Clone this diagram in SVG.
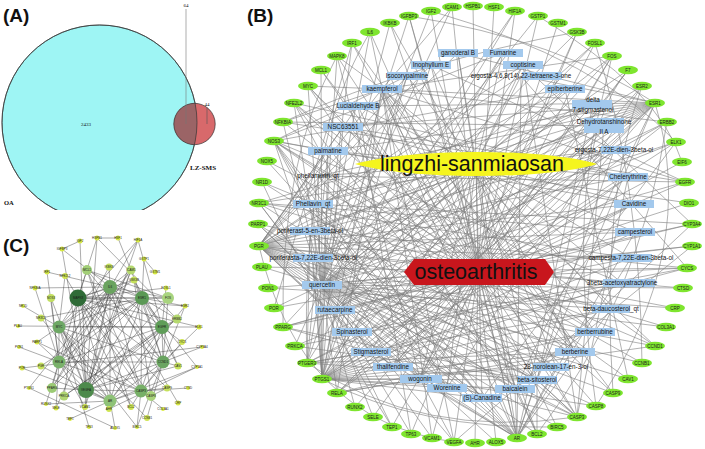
<svg xmlns="http://www.w3.org/2000/svg" width="705" height="449" viewBox="0 0 705 449">
<style>
text{font-family:"Liberation Sans",Arial,sans-serif;fill:#111}
.lbl{font-size:19px;font-weight:bold}
.e{fill:none;stroke:#7e7e7e;stroke-width:0.6}
.ec{fill:none;stroke:#3c3c3c;stroke-width:0.5;stroke-opacity:0.85}
.t ellipse{fill:#7fe52f}
.t text{font-size:4.5px;text-anchor:middle;fill:#1a1a1a}
.c rect{fill:#a3c9ed}
.c text{font-size:6.3px;text-anchor:middle}
.p text{font-size:3px;text-anchor:middle;fill:#1a1a1a}
.vs{font-family:"Liberation Serif","Times New Roman",serif}
</style>
<defs>
<clipPath id="clipA"><rect x="0" y="0" width="240" height="210"/></clipPath>
<clipPath id="clipBig"><circle cx="99.5" cy="122.5" r="97.5"/></clipPath>
</defs>
<rect width="705" height="449" fill="#fff"/>

<!-- Panel A -->
<text class="lbl" x="3" y="22">(A)</text>
<g id="set-OA">
<circle cx="99.5" cy="122.5" r="97.5" fill="#9ef5f4" stroke="#333" stroke-width="0.7" clip-path="url(#clipA)"/>
</g>
<g id="set-LZSMS">
<circle cx="194.5" cy="124" r="20.7" fill="#d8696b"/>
<circle cx="194.5" cy="124" r="20.7" fill="#9b6466" clip-path="url(#clipBig)"/>
<circle cx="194.5" cy="124" r="20.7" fill="none" stroke="#333" stroke-width="0.7"/>
<circle cx="99.5" cy="122.5" r="97.5" fill="none" stroke="#333" stroke-width="0.7" clip-path="url(#clipA)"/>
</g>
<g id="venn-labels">
<line x1="186" y1="9" x2="186" y2="124" stroke="#777" stroke-width="0.6"/>
<line x1="207" y1="107" x2="207" y2="124" stroke="#555" stroke-width="0.6"/>
<text class="vs" x="186" y="7" font-size="5" text-anchor="middle" fill="#444">64</text>
<text class="vs" x="207" y="105.5" font-size="5" text-anchor="middle" fill="#333">44</text>
<text class="vs" x="86" y="125.5" font-size="5" text-anchor="middle" fill="#333">2433</text>
<text class="vs" x="190" y="170" font-size="7" font-weight="bold">LZ-SMS</text>
<text class="vs" x="4" y="205" font-size="6.5" font-weight="bold">OA</text>
</g>

<!-- Panel B -->
<text class="lbl" x="247" y="22">(B)</text>
<g id="connectors-B">
<path class="e" d="M476 164L458 53M476 164L503 53M476 164L431 65M476 164L523 65M476 164L407 76M476 164L521 76M476 164L382 89M476 164L565 89M476 164L358 106M476 164L593 105M476 164L343 127M476 164L604 126M476 164L328 151M476 164L614 150M476 164L318 176M476 164L628 177M476 164L313 204M476 164L634 204M476 164L310 231M476 164L635 232M476 164L313 258M476 164L631 258M476 164L322 285M476 164L622 283M476 164L611 309M476 164L335 310M476 164L595 332M476 164L352 332M476 164L371 352M476 164L575 352M476 164L393 367M476 164L556 367M476 164L537 380M476 164L420 379M476 164L447 388M476 164L515 389M476 164L482 398"/>
<path class="e" d="M478 271L370 32M478 271L390 23M478 271L409 16M478 271L431 11M478 271L452 7M478 271L473 6M478 271L494 7M478 271L515 11M478 271L538 16M478 271L558 23M478 271L577 32M478 271L595 43M478 271L612 56M478 271L628 70M478 271L642 86M478 271L655 103M478 271L667 122M478 271L676 142M478 271L682 162M478 271L685 182M478 271L689 203M478 271L692 224M478 271L692 246M478 271L687 268M478 271L683 288M478 271L675 308M478 271L666 327M478 271L655 346M478 271L642 363M478 271L628 379M478 271L613 393M478 271L596 406M478 271L577 417M478 271L557 427M478 271L537 434M478 271L517 438M478 271L496 442M478 271L475 443M478 271L454 442M478 271L432 438M478 271L411 434M478 271L392 427M478 271L373 417M478 271L355 407M478 271L337 393M478 271L322 379M478 271L307 363M478 271L295 346M478 271L283 327M478 271L274 308M478 271L268 288M478 271L262 267M478 271L259 246M478 271L258 224M478 271L259 203M478 271L262 182M478 271L267 161M478 271L274 141M478 271L283 122M478 271L294 103M478 271L308 86M478 271L321 70M478 271L337 56M478 271L352 43"/>
<path class="e" d="M322 285L370 32M322 285L390 23M322 285L409 16M322 285L431 11M322 285L452 7M322 285L515 11M322 285L538 16M322 285L577 32M322 285L595 43M322 285L612 56M322 285L628 70M322 285L642 86M322 285L655 103M322 285L667 122M322 285L676 142M322 285L685 182M322 285L692 246M322 285L687 268M322 285L683 288M322 285L675 308M322 285L666 327M322 285L655 346M322 285L642 363M322 285L628 379M322 285L613 393M322 285L596 406M322 285L577 417M322 285L557 427M322 285L537 434M322 285L517 438M322 285L496 442M322 285L454 442M322 285L432 438M322 285L411 434M322 285L392 427M322 285L373 417M322 285L355 407M322 285L337 393M322 285L322 379M322 285L307 363M322 285L295 346M322 285L283 327M322 285L274 308M322 285L262 267M322 285L259 246M322 285L258 224M322 285L259 203M322 285L274 141M322 285L283 122M322 285L294 103M322 285L308 86M322 285L321 70M322 285L337 56M322 285L352 43"/>
<path class="e" d="M382 89L370 32M382 89L452 7M382 89L612 56M382 89L655 103M382 89L667 122M382 89L685 182M382 89L655 346M382 89L613 393M382 89L577 417M382 89L537 434M382 89L517 438M382 89L454 442M382 89L432 438M382 89L337 393M382 89L322 379M382 89L259 246M382 89L283 122M382 89L308 86M382 89L337 56"/>
<path class="e" d="M420 379L577 32M420 379L612 56M420 379L655 103M420 379L655 346M420 379L596 406M420 379L577 417M420 379L517 438M420 379L454 442M420 379L337 393M420 379L322 379M420 379L259 246M420 379L258 224M420 379L337 56M420 379L274 141"/>
<path class="e" d="M515 389L409 16M515 389L655 103M515 389L692 224M515 389L692 246M515 389L577 417M515 389L537 434M515 389L517 438M515 389L454 442M515 389L322 379M515 389L259 246M515 389L258 224M515 389L308 86M515 389L294 103"/>
<path class="e" d="M537 380L612 56M537 380L655 103M537 380L577 417M537 380L537 434M537 380L517 438M537 380L322 379M537 380L307 363M537 380L295 346M537 380L283 327M537 380L259 246M537 380L321 70M537 380L259 203"/>
<path class="e" d="M371 352L655 103M371 352L687 268M371 352L517 438M371 352L322 379M371 352L307 363M371 352L283 327M371 352L259 246M371 352L259 203"/>
<path class="e" d="M458 53L259 246M458 53L517 438M458 53L655 103M503 53L322 379M503 53L307 363M503 53L274 141M431 65L259 246M431 65L517 438M431 65L685 182M431 65L322 379M523 65L322 379M523 65L259 246M523 65L692 224M523 65L577 417M407 76L322 379M407 76L307 363M407 76L274 141M407 76L259 246M521 76L259 246M521 76L517 438M521 76L687 268M521 76L655 103M565 89L322 379M565 89L259 246M565 89L274 141M565 89L628 379M358 106L259 246M358 106L517 438M358 106L655 103M358 106L411 434M593 105L259 246M593 105L322 379M593 105L517 438M593 105L259 203M343 127L655 103M343 127L259 246M343 127L322 379M343 127L655 346M343 127L685 182M604 126L322 379M604 126L259 246M604 126L577 417M604 126L283 122M604 126L337 393M328 151L322 379M328 151L259 246M328 151L655 103M328 151L274 141M328 151L307 363M328 151L689 203M614 150L259 246M614 150L322 379M614 150L517 438M614 150L259 203M318 176L655 103M318 176L685 182M318 176L322 379M318 176L517 438M318 176L577 417"/>
<path class="e" d="M628 177L322 379M628 177L259 246M628 177L283 122M628 177L577 417M628 177L294 103M628 177L337 393M313 204L655 103M313 204L322 379M313 204L577 417M313 204L517 438M313 204L692 224M634 204L322 379M634 204L259 246M634 204L274 141M634 204L307 363M310 231L259 246M310 231L322 379M310 231L517 438M310 231L655 103M310 231L307 363M310 231L687 268M635 232L259 246M635 232L322 379M635 232L517 438M635 232L259 203M635 232L283 327M313 258L259 246M313 258L322 379M313 258L517 438M313 258L655 103M313 258L676 142M631 258L259 246M631 258L322 379M631 258L517 438M631 258L283 327M631 258L259 203M622 283L322 379M622 283L259 246M622 283L295 346M622 283L274 141M611 309L259 246M611 309L322 379M611 309L307 363M611 309L517 438M611 309L268 288"/>
<path class="e" d="M335 310L655 103M335 310L692 224M335 310L322 379M335 310L667 122M335 310L515 11M335 310L595 43M595 332L322 379M595 332L259 246M595 332L274 141M595 332L337 393M595 332L294 103M352 332L259 246M352 332L322 379M352 332L517 438M352 332L655 103M352 332L687 268M352 332L612 56M575 352L322 379M575 352L259 246M575 352L274 141M575 352L307 363M575 352L337 393M575 352L308 86M575 352L352 43M575 352L390 23M393 367L655 103M393 367L259 246M393 367L274 141M393 367L628 70M556 367L259 246M556 367L322 379M556 367L517 438M556 367L262 182M447 388L322 379M447 388L259 246M447 388L274 141M447 388L642 86M447 388L294 103M482 398L322 379M482 398L259 246M482 398L274 141M482 398L676 142M482 398L267 161"/>
<path class="e" d="M628 70Q560 150 596 406M642 86Q600 200 613 393M595 43Q640 180 642 363M370 32Q300 150 307 363M352 43Q330 120 274 308M337 56Q280 160 283 327M655 103Q700 250 596 406M409 16Q560 40 655 103M431 11Q600 60 676 142M322 379Q420 430 557 427M307 363Q420 440 577 417M259 246Q300 420 454 442M538 16Q660 90 682 162M262 182Q330 330 392 427M667 122Q640 300 537 434M283 122Q420 60 577 32"/>
</g>

<g id="n-lingzhi"><path d="M355 164C410 148 545 148 597 164C545 180 410 180 355 164Z" fill="#f5f51e"/><text x="472" y="171" font-size="21.5" text-anchor="middle">lingzhi-sanmiaosan</text></g>
<g id="n-osteoarthritis"><path d="M404 272L414 259L545 259L554 272L545 285L414 285Z" fill="#c8161d"/><text x="476" y="279" font-size="21.5" text-anchor="middle">osteoarthritis</text></g>

<g id="t-IL6" class="t"><ellipse cx="370" cy="32" rx="10" ry="4.2"/><text x="370" y="33.6">IL6</text></g>
<g id="t-IKBKB" class="t"><ellipse cx="390" cy="23" rx="10" ry="4.2"/><text x="390" y="24.6">IKBKB</text></g>
<g id="t-IGFBP3" class="t"><ellipse cx="409" cy="16" rx="10" ry="4.2"/><text x="409" y="17.6">IGFBP3</text></g>
<g id="t-IGF2" class="t"><ellipse cx="431" cy="11" rx="10" ry="4.2"/><text x="431" y="12.6">IGF2</text></g>
<g id="t-ICAM1" class="t"><ellipse cx="452" cy="7" rx="10" ry="4.2"/><text x="452" y="8.6">ICAM1</text></g>
<g id="t-HSPB1" class="t"><ellipse cx="473" cy="6" rx="10" ry="4.2"/><text x="473" y="7.6">HSPB1</text></g>
<g id="t-HSF1" class="t"><ellipse cx="494" cy="7" rx="10" ry="4.2"/><text x="494" y="8.6">HSF1</text></g>
<g id="t-HIF1A" class="t"><ellipse cx="515" cy="11" rx="10" ry="4.2"/><text x="515" y="12.6">HIF1A</text></g>
<g id="t-GSTP1" class="t"><ellipse cx="538" cy="16" rx="10" ry="4.2"/><text x="538" y="17.6">GSTP1</text></g>
<g id="t-GSTM1" class="t"><ellipse cx="558" cy="23" rx="10" ry="4.2"/><text x="558" y="24.6">GSTM1</text></g>
<g id="t-GSK3B" class="t"><ellipse cx="577" cy="32" rx="10" ry="4.2"/><text x="577" y="33.6">GSK3B</text></g>
<g id="t-FOSL1" class="t"><ellipse cx="595" cy="43" rx="10" ry="4.2"/><text x="595" y="44.6">FOSL1</text></g>
<g id="t-FOS" class="t"><ellipse cx="612" cy="56" rx="10" ry="4.2"/><text x="612" y="57.6">FOS</text></g>
<g id="t-F7" class="t"><ellipse cx="628" cy="70" rx="10" ry="4.2"/><text x="628" y="71.6">F7</text></g>
<g id="t-ESR2" class="t"><ellipse cx="642" cy="86" rx="10" ry="4.2"/><text x="642" y="87.6">ESR2</text></g>
<g id="t-ESR1" class="t"><ellipse cx="655" cy="103" rx="10" ry="4.2"/><text x="655" y="104.6">ESR1</text></g>
<g id="t-ERBB2" class="t"><ellipse cx="667" cy="122" rx="10" ry="4.2"/><text x="667" y="123.6">ERBB2</text></g>
<g id="t-ELK1" class="t"><ellipse cx="676" cy="142" rx="10" ry="4.2"/><text x="676" y="143.6">ELK1</text></g>
<g id="t-EIF6" class="t"><ellipse cx="682" cy="162" rx="10" ry="4.2"/><text x="682" y="163.6">EIF6</text></g>
<g id="t-EGFR" class="t"><ellipse cx="685" cy="182" rx="10" ry="4.2"/><text x="685" y="183.6">EGFR</text></g>
<g id="t-DIO1" class="t"><ellipse cx="689" cy="203" rx="10" ry="4.2"/><text x="689" y="204.6">DIO1</text></g>
<g id="t-CYP3A4" class="t"><ellipse cx="692" cy="224" rx="10" ry="4.2"/><text x="692" y="225.6">CYP3A4</text></g>
<g id="t-CYP1A1" class="t"><ellipse cx="692" cy="246" rx="10" ry="4.2"/><text x="692" y="247.6">CYP1A1</text></g>
<g id="t-CYCS" class="t"><ellipse cx="687" cy="268" rx="10" ry="4.2"/><text x="687" y="269.6">CYCS</text></g>
<g id="t-CTSD" class="t"><ellipse cx="683" cy="288" rx="10" ry="4.2"/><text x="683" y="289.6">CTSD</text></g>
<g id="t-CRP" class="t"><ellipse cx="675" cy="308" rx="10" ry="4.2"/><text x="675" y="309.6">CRP</text></g>
<g id="t-COL3A1" class="t"><ellipse cx="666" cy="327" rx="10" ry="4.2"/><text x="666" y="328.6">COL3A1</text></g>
<g id="t-CCND1" class="t"><ellipse cx="655" cy="346" rx="10" ry="4.2"/><text x="655" y="347.6">CCND1</text></g>
<g id="t-CCNB1" class="t"><ellipse cx="642" cy="363" rx="10" ry="4.2"/><text x="642" y="364.6">CCNB1</text></g>
<g id="t-CAV1" class="t"><ellipse cx="628" cy="379" rx="10" ry="4.2"/><text x="628" y="380.6">CAV1</text></g>
<g id="t-CASP9" class="t"><ellipse cx="613" cy="393" rx="10" ry="4.2"/><text x="613" y="394.6">CASP9</text></g>
<g id="t-CASP8" class="t"><ellipse cx="596" cy="406" rx="10" ry="4.2"/><text x="596" y="407.6">CASP8</text></g>
<g id="t-CASP3" class="t"><ellipse cx="577" cy="417" rx="10" ry="4.2"/><text x="577" y="418.6">CASP3</text></g>
<g id="t-BIRC5" class="t"><ellipse cx="557" cy="427" rx="10" ry="4.2"/><text x="557" y="428.6">BIRC5</text></g>
<g id="t-BCL2" class="t"><ellipse cx="537" cy="434" rx="10" ry="4.2"/><text x="537" y="435.6">BCL2</text></g>
<g id="t-AR" class="t"><ellipse cx="517" cy="438" rx="10" ry="4.2"/><text x="517" y="439.6">AR</text></g>
<g id="t-ALOX5" class="t"><ellipse cx="496" cy="442" rx="10" ry="4.2"/><text x="496" y="443.6">ALOX5</text></g>
<g id="t-AHR" class="t"><ellipse cx="475" cy="443" rx="10" ry="4.2"/><text x="475" y="444.6">AHR</text></g>
<g id="t-VEGFA" class="t"><ellipse cx="454" cy="442" rx="10" ry="4.2"/><text x="454" y="443.6">VEGFA</text></g>
<g id="t-VCAM1" class="t"><ellipse cx="432" cy="438" rx="10" ry="4.2"/><text x="432" y="439.6">VCAM1</text></g>
<g id="t-TP63" class="t"><ellipse cx="411" cy="434" rx="10" ry="4.2"/><text x="411" y="435.6">TP63</text></g>
<g id="t-TEP1" class="t"><ellipse cx="392" cy="427" rx="10" ry="4.2"/><text x="392" y="428.6">TEP1</text></g>
<g id="t-SELE" class="t"><ellipse cx="373" cy="417" rx="10" ry="4.2"/><text x="373" y="418.6">SELE</text></g>
<g id="t-RUNX2" class="t"><ellipse cx="355" cy="407" rx="10" ry="4.2"/><text x="355" y="408.6">RUNX2</text></g>
<g id="t-RELA" class="t"><ellipse cx="337" cy="393" rx="10" ry="4.2"/><text x="337" y="394.6">RELA</text></g>
<g id="t-PTGS1" class="t"><ellipse cx="322" cy="379" rx="10" ry="4.2"/><text x="322" y="380.6">PTGS1</text></g>
<g id="t-PTGER3" class="t"><ellipse cx="307" cy="363" rx="10" ry="4.2"/><text x="307" y="364.6">PTGER3</text></g>
<g id="t-PRKCA" class="t"><ellipse cx="295" cy="346" rx="10" ry="4.2"/><text x="295" y="347.6">PRKCA</text></g>
<g id="t-PPARG" class="t"><ellipse cx="283" cy="327" rx="10" ry="4.2"/><text x="283" y="328.6">PPARG</text></g>
<g id="t-POR" class="t"><ellipse cx="274" cy="308" rx="10" ry="4.2"/><text x="274" y="309.6">POR</text></g>
<g id="t-PON1" class="t"><ellipse cx="268" cy="288" rx="10" ry="4.2"/><text x="268" y="289.6">PON1</text></g>
<g id="t-PLAU" class="t"><ellipse cx="262" cy="267" rx="10" ry="4.2"/><text x="262" y="268.6">PLAU</text></g>
<g id="t-PGR" class="t"><ellipse cx="259" cy="246" rx="10" ry="4.2"/><text x="259" y="247.6">PGR</text></g>
<g id="t-PARP1" class="t"><ellipse cx="258" cy="224" rx="10" ry="4.2"/><text x="258" y="225.6">PARP1</text></g>
<g id="t-NR3C1" class="t"><ellipse cx="259" cy="203" rx="10" ry="4.2"/><text x="259" y="204.6">NR3C1</text></g>
<g id="t-NR1D" class="t"><ellipse cx="262" cy="182" rx="10" ry="4.2"/><text x="262" y="183.6">NR1D</text></g>
<g id="t-NOX5" class="t"><ellipse cx="267" cy="161" rx="10" ry="4.2"/><text x="267" y="162.6">NOX5</text></g>
<g id="t-NOS3" class="t"><ellipse cx="274" cy="141" rx="10" ry="4.2"/><text x="274" y="142.6">NOS3</text></g>
<g id="t-NFKBIA" class="t"><ellipse cx="283" cy="122" rx="10" ry="4.2"/><text x="283" y="123.6">NFKBIA</text></g>
<g id="t-NFE2L2" class="t"><ellipse cx="294" cy="103" rx="10" ry="4.2"/><text x="294" y="104.6">NFE2L2</text></g>
<g id="t-MYC" class="t"><ellipse cx="308" cy="86" rx="10" ry="4.2"/><text x="308" y="87.6">MYC</text></g>
<g id="t-MCL1" class="t"><ellipse cx="321" cy="70" rx="10" ry="4.2"/><text x="321" y="71.6">MCL1</text></g>
<g id="t-MAPK8" class="t"><ellipse cx="337" cy="56" rx="10" ry="4.2"/><text x="337" y="57.6">MAPK8</text></g>
<g id="t-IRF1" class="t"><ellipse cx="352" cy="43" rx="10" ry="4.2"/><text x="352" y="44.6">IRF1</text></g>

<g id="c-ganoderalB" class="c"><rect x="438" y="49" width="40" height="8"/><text x="458" y="55.3">ganoderal B</text></g>
<g id="c-Fumarine" class="c"><rect x="483" y="49" width="40" height="8"/><text x="503" y="55.3">Fumarine</text></g>
<g id="c-InophyllumE" class="c"><rect x="411" y="61" width="40" height="8"/><text x="431" y="67.3">Inophyllum E</text></g>
<g id="c-coptisine" class="c"><rect x="503" y="61" width="40" height="8"/><text x="523" y="67.3">coptisine</text></g>
<g id="c-Isocorypalmine" class="c"><rect x="387" y="72" width="40" height="8"/><text x="407" y="78.3">Isocorypalmine</text></g>
<g id="c-ergosta-tetraene" class="c"><rect x="522" y="72" width="40" height="8"/><text x="521" y="78.3">ergosta-4,6,8(14),22-tetraene-3-one</text></g>
<g id="c-kaempferol" class="c"><rect x="362" y="85" width="40" height="8"/><text x="382" y="91.3">kaempferol</text></g>
<g id="c-epiberberine" class="c"><rect x="545" y="85" width="40" height="8"/><text x="565" y="91.3">epiberberine</text></g>
<g id="c-LucialdehydeB" class="c"><rect x="338" y="102" width="40" height="8"/><text x="358" y="108.3">Lucialdehyde B</text></g>
<g id="c-delta7-stigmastenol" class="c"><rect x="572" y="100" width="40" height="9"/><text x="593" y="102.3">delta</text><text x="593" y="112.3">7-stigmastenol</text></g>
<g id="c-NSC63551" class="c"><rect x="323" y="123" width="40" height="8"/><text x="343" y="129.3">NSC63551</text></g>
<g id="c-DehydrotanshinoneIIA" class="c"><rect x="584" y="118" width="40" height="15"/><text x="604" y="124.3">Dehydrotanshinone</text><text x="604" y="134.3">II A</text></g>
<g id="c-palmatine" class="c"><rect x="308" y="147" width="40" height="8"/><text x="328" y="153.3">palmatine</text></g>
<g id="c-ergosta-dien" class="c"><rect x="601" y="146" width="30" height="8"/><text x="614" y="152.3">ergosta-7,22E-dien-3beta-ol</text></g>
<g id="c-phellamurin" class="c"><text x="318" y="178.3">phellamurin_qt</text></g>
<g id="c-Chelerythrine" class="c"><rect x="608" y="173" width="40" height="8"/><text x="628" y="179.3">Chelerythrine</text></g>
<g id="c-Phellavin" class="c"><rect x="293" y="200" width="40" height="8"/><text x="313" y="206.3">Phellavin_qt</text></g>
<g id="c-Cavidine" class="c"><rect x="614" y="200" width="40" height="8"/><text x="634" y="206.3">Cavidine</text></g>
<g id="c-poriferast" class="c"><rect x="290" y="227" width="40" height="8"/><text x="310" y="233.3">poriferast-5-en-3beta-ol</text></g>
<g id="c-campesterol" class="c"><rect x="615" y="228" width="40" height="8"/><text x="635" y="234.3">campesterol</text></g>
<g id="c-poriferasta" class="c"><rect x="293" y="254" width="40" height="8"/><text x="313" y="260.3">poriferasta-7,22E-dien-3beta-ol</text></g>
<g id="c-campesta" class="c"><rect x="612" y="254" width="40" height="8"/><text x="631" y="260.3">campesta-7,22E-dien-3beta-ol</text></g>
<g id="c-quercetin" class="c"><rect x="302" y="281" width="40" height="8"/><text x="322" y="287.3">quercetin</text></g>
<g id="c-acetoxyatractylone" class="c"><rect x="603" y="279" width="52" height="8"/><text x="622" y="285.3">3beta-acetoxyatractylone</text></g>
<g id="c-daucosterol" class="c"><rect x="592" y="305" width="38" height="8"/><text x="611" y="311.3">beta-daucosterol_qt</text></g>
<g id="c-rutaecarpine" class="c"><rect x="315" y="306" width="40" height="8"/><text x="335" y="312.3">rutaecarpine</text></g>
<g id="c-berberrubine" class="c"><rect x="575" y="328" width="40" height="8"/><text x="595" y="334.3">berberrubine</text></g>
<g id="c-Spinasterol" class="c"><rect x="332" y="328" width="40" height="8"/><text x="352" y="334.3">Spinasterol</text></g>
<g id="c-Stigmasterol" class="c"><rect x="351" y="348" width="40" height="8"/><text x="371" y="354.3">Stigmasterol</text></g>
<g id="c-berberine" class="c"><rect x="555" y="348" width="40" height="8"/><text x="575" y="354.3">berberine</text></g>
<g id="c-thalifendine" class="c"><rect x="373" y="363" width="40" height="8"/><text x="393" y="369.3">thalifendine</text></g>
<g id="c-norolean" class="c"><rect x="533" y="363" width="36" height="8"/><text x="556" y="369.3">28-norolean-17-en-3-ol</text></g>
<g id="c-sitosterol" class="c"><rect x="517" y="376" width="40" height="8"/><text x="537" y="382.3">beta-sitosterol</text></g>
<g id="c-wogonin" class="c"><rect x="400" y="375" width="42" height="8"/><text x="420" y="381.3">wogonin</text></g>
<g id="c-Worenine" class="c"><rect x="427" y="384" width="40" height="8"/><text x="447" y="390.3">Worenine</text></g>
<g id="c-baicalein" class="c"><rect x="495" y="385" width="40" height="8"/><text x="515" y="391.3">baicalein</text></g>
<g id="c-Canadine" class="c"><rect x="462" y="394" width="40" height="8"/><text x="482" y="400.3">(S)-Canadine</text></g>

<!-- Panel C -->
<text class="lbl" x="3" y="252">(C)</text>
<g id="connectors-C">
<path class="ec" d="M78 298L86 390M78 298L142 298M78 298L110 287M78 298L162 327M78 298L163 362M78 298L59 327M78 298L59 362M78 298L141 391M78 298L110 401M86 390L142 298M86 390L110 287M86 390L162 327M86 390L163 362M86 390L59 327M86 390L59 362M86 390L141 391M86 390L110 401M142 298L110 287M142 298L162 327M142 298L163 362M142 298L59 327M142 298L59 362M142 298L141 391M142 298L110 401M110 287L162 327M110 287L163 362M110 287L59 327M110 287L59 362M110 287L141 391M110 287L110 401M162 327L163 362M162 327L59 327M162 327L59 362M162 327L141 391M162 327L110 401M163 362L59 327M163 362L59 362M163 362L141 391M163 362L110 401M59 327L59 362M59 327L141 391M59 327L110 401M59 362L141 391M59 362L110 401M141 391L110 401"/>
<path class="ec" d="M78 298L168 298M78 298L185 306M78 298L65 276M78 298L87 270M78 298L167 388M78 298L131 407M78 298L134 280M78 298L199 327M78 298L151 396M78 298L64 396M78 298L97 238M78 298L166 288M86 390L138 240M86 390L131 270M86 390L51 298M86 390L178 366M86 390L177 319M86 390L168 298M86 390L97 238M86 390L80 241M86 390L85 407M86 390L52 388M86 390L62 249M142 298L185 306M142 298L41 366M142 298L177 319M142 298L197 367M142 298L41 318M142 298L118 238M142 298L178 366M142 298L52 388M142 298L87 270M142 298L144 259M142 298L168 298M110 287L131 270M110 287L85 407M110 287L56 408M110 287L178 403M110 287L47 272M110 287L29 388M110 287L35 288M110 287L168 298M110 287L109 267M110 287L62 249"/>
<path class="ec" d="M162 327L177 319M162 327L134 280M162 327L199 327M162 327L18 326M162 327L64 396M162 327L178 366M162 327L138 240M162 327L182 342M162 327L166 288M163 362L147 418M163 362L134 280M163 362L168 298M163 362L185 306M163 362L137 427M163 362L178 366M163 362L199 327M163 362L87 270M163 362L202 347M59 327L138 240M59 327L134 280M59 327L89 427M59 327L147 418M59 327L137 427M59 327L37 342M59 327L65 276M59 327L23 306M59 362L35 288M59 362L109 267M59 362L131 270M59 362L85 407M59 362L56 408M59 362L37 342M59 362L52 388M59 362L51 298M59 362L47 272M59 362L46 404M59 362L19 347M141 391L151 396M141 391L167 388M141 391L131 407M141 391L37 342M141 391L137 427M141 391L182 342M141 391L87 270M141 391L188 388M141 391L163 409M110 401L41 366M110 401L185 306M110 401L41 318M110 401L109 409M110 401L46 404M110 401L197 367M110 401L115 428M110 401L70 419M110 401L22 368M109 409L197 367M202 347L22 368M155 272L144 259M29 388L115 428M97 238L118 238M62 249L80 241M151 396L167 388M131 407L87 270M131 270L85 407M87 270L168 298M131 270L52 388M177 319L64 396M134 280L151 396M97 238L177 319M138 240L52 388"/>
</g>
<g id="p-HSPB1" class="p"><circle cx="97" cy="238" r="2.5" fill="#d8ea45"/><text x="97" y="239">HSPB1</text></g>
<g id="p-HSF1" class="p"><circle cx="118" cy="238" r="2.5" fill="#d8ea45"/><text x="118" y="239">HSF1</text></g>
<g id="p-HIF1A" class="p"><circle cx="138" cy="240" r="2.5" fill="#d8ea45"/><text x="138" y="241">HIF1A</text></g>
<g id="p-IGF2" class="p"><circle cx="80" cy="241" r="2.5" fill="#d8ea45"/><text x="80" y="242">IGF2</text></g>
<g id="p-IGFBP3" class="p"><circle cx="62" cy="249" r="2.5" fill="#d8ea45"/><text x="62" y="250">IGFBP3</text></g>
<g id="p-GSTP1" class="p"><circle cx="144" cy="259" r="2.5" fill="#d8ea45"/><text x="144" y="260">GSTP1</text></g>
<g id="p-IRF1" class="p"><circle cx="47" cy="272" r="2.5" fill="#d8ea45"/><text x="47" y="273">IRF1</text></g>
<g id="p-MCL1" class="p"><circle cx="87" cy="270" r="5" fill="#a3cf78"/><text x="87" y="271">MCL1</text></g>
<g id="p-IKBKB" class="p"><circle cx="109" cy="267" r="3.5" fill="#c6e15d"/><text x="109" y="268">IKBKB</text></g>
<g id="p-ICAM1" class="p"><circle cx="131" cy="270" r="4.5" fill="#b5d96f"/><text x="131" y="271">ICAM1</text></g>
<g id="p-GSTM1" class="p"><circle cx="155" cy="272" r="2.5" fill="#d8ea45"/><text x="155" y="273">GSTM1</text></g>
<g id="p-NFE2L2" class="p"><circle cx="65" cy="276" r="3" fill="#cfe552"/><text x="65" y="277">NFE2L2</text></g>
<g id="p-GSK3B" class="p"><circle cx="134" cy="280" r="3.5" fill="#c6e15d"/><text x="134" y="281">GSK3B</text></g>
<g id="p-IL6" class="p"><circle cx="110" cy="287" r="7" fill="#6aa35f"/><text x="110" y="288">IL6</text></g>
<g id="p-NFKBIA" class="p"><circle cx="35" cy="288" r="2.5" fill="#d8ea45"/><text x="35" y="289">NFKBIA</text></g>
<g id="p-FOSL1" class="p"><circle cx="166" cy="288" r="2.5" fill="#d8ea45"/><text x="166" y="289">FOSL1</text></g>
<g id="p-NOS3" class="p"><circle cx="51" cy="298" r="4" fill="#c2df62"/><text x="51" y="299">NOS3</text></g>
<g id="p-MAPK8" class="p"><circle cx="78" cy="298" r="8.5" fill="#2f6b37"/><text x="78" y="299">MAPK8</text></g>
<g id="p-ESR1" class="p"><circle cx="142" cy="298" r="7" fill="#5b9955"/><text x="142" y="299">ESR1</text></g>
<g id="p-FOS" class="p"><circle cx="168" cy="298" r="6" fill="#a9d47f"/><text x="168" y="299">FOS</text></g>
<g id="p-ESR2" class="p"><circle cx="185" cy="306" r="2.5" fill="#d8ea45"/><text x="185" y="307">ESR2</text></g>
<g id="p-NR1D" class="p"><circle cx="23" cy="306" r="2" fill="#dcec42"/><text x="23" y="307">NR1D</text></g>
<g id="p-NR3C1" class="p"><circle cx="41" cy="318" r="3.5" fill="#c6e15d"/><text x="41" y="319">NR3C1</text></g>
<g id="p-ERBB2" class="p"><circle cx="177" cy="319" r="4.5" fill="#b5d96f"/><text x="177" y="320">ERBB2</text></g>
<g id="p-PLAU" class="p"><circle cx="18" cy="326" r="2" fill="#dcec42"/><text x="18" y="327">PLAU</text></g>
<g id="p-MYC" class="p"><circle cx="59" cy="327" r="6.5" fill="#6ea865"/><text x="59" y="328">MYC</text></g>
<g id="p-EGFR" class="p"><circle cx="162" cy="327" r="7" fill="#5f9d58"/><text x="162" y="328">EGFR</text></g>
<g id="p-ELK1" class="p"><circle cx="199" cy="327" r="2.5" fill="#d8ea45"/><text x="199" y="328">ELK1</text></g>
<g id="p-PARP1" class="p"><circle cx="37" cy="342" r="2.5" fill="#d8ea45"/><text x="37" y="343">PARP1</text></g>
<g id="p-CYCS" class="p"><circle cx="182" cy="342" r="3" fill="#cfe552"/><text x="182" y="343">CYCS</text></g>
<g id="p-PON1" class="p"><circle cx="19" cy="347" r="2" fill="#dcec42"/><text x="19" y="348">PON1</text></g>
<g id="p-CYP3A4" class="p"><circle cx="202" cy="347" r="2" fill="#dcec42"/><text x="202" y="348">CYP3A4</text></g>
<g id="p-PGR" class="p"><circle cx="41" cy="366" r="3.5" fill="#c6e15d"/><text x="41" y="367">PGR</text></g>
<g id="p-RELA" class="p"><circle cx="59" cy="362" r="6.5" fill="#79b16a"/><text x="59" y="363">RELA</text></g>
<g id="p-CCND1" class="p"><circle cx="163" cy="362" r="6.5" fill="#6aa461"/><text x="163" y="363">CCND1</text></g>
<g id="p-CAV1" class="p"><circle cx="178" cy="366" r="3.5" fill="#c6e15d"/><text x="178" y="367">CAV1</text></g>
<g id="p-POR" class="p"><circle cx="22" cy="368" r="2.5" fill="#d8ea45"/><text x="22" y="369">POR</text></g>
<g id="p-CYP1A1" class="p"><circle cx="197" cy="367" r="2" fill="#dcec42"/><text x="197" y="368">CYP1A1</text></g>
<g id="p-PPARG" class="p"><circle cx="52" cy="388" r="5" fill="#9ccb74"/><text x="52" y="389">PPARG</text></g>
<g id="p-VEGFA" class="p"><circle cx="86" cy="390" r="8" fill="#4d8a4b"/><text x="86" y="391">VEGFA</text></g>
<g id="p-CASP3" class="p"><circle cx="141" cy="391" r="6.5" fill="#77b067"/><text x="141" y="392">CASP3</text></g>
<g id="p-CASP9" class="p"><circle cx="167" cy="388" r="3.5" fill="#c6e15d"/><text x="167" y="389">CASP9</text></g>
<g id="p-CTSD" class="p"><circle cx="188" cy="388" r="2" fill="#dcec42"/><text x="188" y="389">CTSD</text></g>
<g id="p-PTGS1" class="p"><circle cx="29" cy="388" r="2" fill="#dcec42"/><text x="29" y="389">PTGS1</text></g>
<g id="p-AR" class="p"><circle cx="110" cy="401" r="6.5" fill="#8fc278"/><text x="110" y="402">AR</text></g>
<g id="p-PRKCA" class="p"><circle cx="64" cy="396" r="4.5" fill="#b0d672"/><text x="64" y="397">PRKCA</text></g>
<g id="p-CASP8" class="p"><circle cx="151" cy="396" r="5" fill="#a9d37a"/><text x="151" y="397">CASP8</text></g>
<g id="p-CRP" class="p"><circle cx="178" cy="403" r="2.5" fill="#d8ea45"/><text x="178" y="404">CRP</text></g>
<g id="p-RUNX2" class="p"><circle cx="46" cy="404" r="2" fill="#dcec42"/><text x="46" y="405">RUNX2</text></g>
<g id="p-VCAM1" class="p"><circle cx="85" cy="407" r="3" fill="#cfe552"/><text x="85" y="408">VCAM1</text></g>
<g id="p-AHR" class="p"><circle cx="109" cy="409" r="3" fill="#cfe552"/><text x="109" y="410">AHR</text></g>
<g id="p-BCL2" class="p"><circle cx="131" cy="407" r="3" fill="#cfe552"/><text x="131" y="408">BCL2</text></g>
<g id="p-COL3A1" class="p"><circle cx="163" cy="409" r="2" fill="#dcec42"/><text x="163" y="410">COL3A1</text></g>
<g id="p-SELE" class="p"><circle cx="56" cy="408" r="2.5" fill="#d8ea45"/><text x="56" y="409">SELE</text></g>
<g id="p-CCNB1" class="p"><circle cx="147" cy="418" r="3" fill="#cfe552"/><text x="147" y="419">CCNB1</text></g>
<g id="p-TEP1" class="p"><circle cx="70" cy="419" r="2" fill="#dcec42"/><text x="70" y="420">TEP1</text></g>
<g id="p-TP63" class="p"><circle cx="89" cy="427" r="2" fill="#dcec42"/><text x="89" y="428">TP63</text></g>
<g id="p-ALOX5" class="p"><circle cx="115" cy="428" r="2" fill="#dcec42"/><text x="115" y="429">ALOX5</text></g>
<g id="p-BIRC5" class="p"><circle cx="137" cy="427" r="2" fill="#dcec42"/><text x="137" y="428">BIRC5</text></g>
</svg>
